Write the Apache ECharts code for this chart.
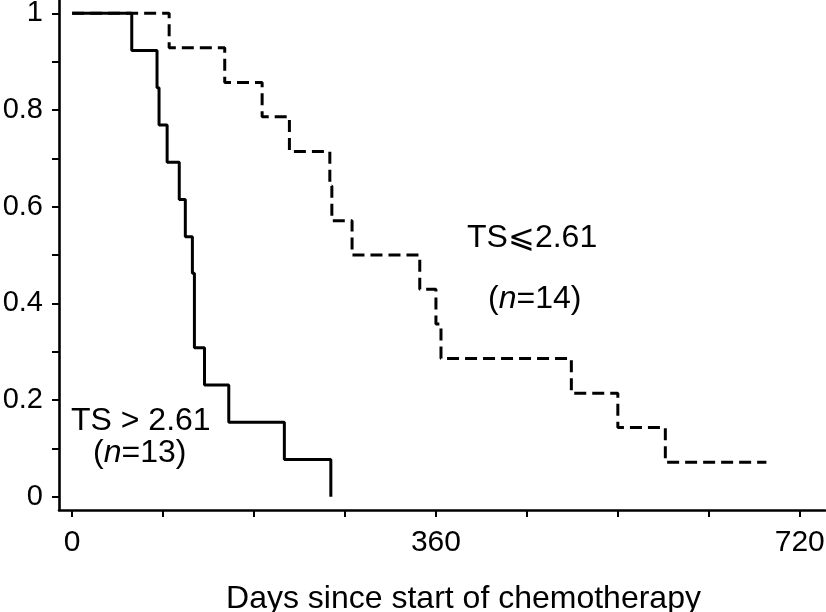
<!DOCTYPE html>
<html>
<head>
<meta charset="utf-8">
<script src="https://cdn.jsdelivr.net/npm/echarts@6/dist/echarts.min.js"></script>
<style>html,body{margin:0;padding:0;background:#fff}#c{width:826px;height:612px}</style>
</head>
<body>
<div id="c"></div>
<script>
// Kaplan-Meier data
var highTimes = [0, 59, 84, 86, 94, 106, 112, 119, 121, 121, 131, 155, 210, 256];
var highSurv  = [1, 0.923, 0.846, 0.769, 0.692, 0.615, 0.538, 0.462, 0.385, 0.308, 0.231, 0.154, 0.077, 0];
var lowTimes  = [0, 96, 151, 188, 215, 255, 257, 277, 344, 360, 365, 494, 540, 587, 687];
var lowSurv   = [1, 0.929, 0.857, 0.786, 0.714, 0.643, 0.571, 0.5, 0.429, 0.357, 0.286, 0.214, 0.143, 0.071, 0.071];
var xTickValues = [0, 90, 180, 270, 360, 450, 540, 630, 720];
var xLabelValues = [0, 360, 720];
var yTickValues = [0, 0.1, 0.2, 0.3, 0.4, 0.5, 0.6, 0.7, 0.8, 0.9, 1];
var yLabelValues = [0, 0.2, 0.4, 0.6, 0.8, 1];
var xTitle = 'Days since start of chemotherapy';

function zip(a, b) { return a.map(function (v, i) { return [v, b[i]]; }); }

var FONT = '"Liberation Sans", Arial, Helvetica, sans-serif';
var chart = echarts.init(document.getElementById('c'));
chart.setOption({
  animation: false,
  grid: { left: 59, right: 1, top: 0, bottom: 102, containLabel: false, outerBoundsMode: 'none' },
  xAxis: {
    type: 'value', min: -13, max: 745,
    name: xTitle, nameLocation: 'middle', nameGap: 73,
    nameTextStyle: { fontFamily: FONT, fontSize: 32, color: '#000', padding: [0, 0, 0, 43] },
    axisLine: { show: true, onZero: false, lineStyle: { color: '#000', width: 2.6 } },
    axisTick: { show: true, customValues: xTickValues, length: 7, lineStyle: { color: '#000', width: 2 } },
    axisLabel: { customValues: xLabelValues, margin: 18, fontFamily: FONT, fontSize: 30, color: '#000' },
    splitLine: { show: false }
  },
  yAxis: {
    type: 'value', min: -0.0276, max: 1.0276,
    axisLine: { show: true, onZero: false, lineStyle: { color: '#000', width: 2.6 } },
    axisTick: { show: true, customValues: yTickValues, length: 7, lineStyle: { color: '#000', width: 2 } },
    axisLabel: { customValues: yLabelValues, margin: 16, fontFamily: FONT, fontSize: 29, color: '#000',
      formatter: function (v) { return String(+v.toFixed(2)); } },
    splitLine: { show: false }
  },
  series: [
    { type: 'line', step: 'end', data: zip(lowTimes, lowSurv), symbol: 'none',
      lineStyle: { color: '#000', width: 3, type: [12, 6] } },
    { type: 'line', step: 'end', data: zip(highTimes, highSurv), symbol: 'none',
      lineStyle: { color: '#000', width: 3, type: 'solid' } }
  ],
  graphic: [
    { type: 'text', left: 71, top: 405, style: { text: 'TS > 2.61', font: '32px ' + FONT, fill: '#000' } },
    { type: 'text', left: 93, top: 437, style: { text: '({i|n}=13)', font: '32px ' + FONT, fill: '#000',
        rich: { i: { fontStyle: 'italic', fontSize: 32, fontFamily: FONT } } } },
    { type: 'text', left: 467, top: 222, style: { text: 'TS⩽2.61', font: '32px ' + FONT, fill: '#000' } },
    { type: 'text', left: 488, top: 283, style: { text: '({i|n}=14)', font: '32px ' + FONT, fill: '#000',
        rich: { i: { fontStyle: 'italic', fontSize: 32, fontFamily: FONT } } } }
  ]
});
</script>
</body>
</html>
